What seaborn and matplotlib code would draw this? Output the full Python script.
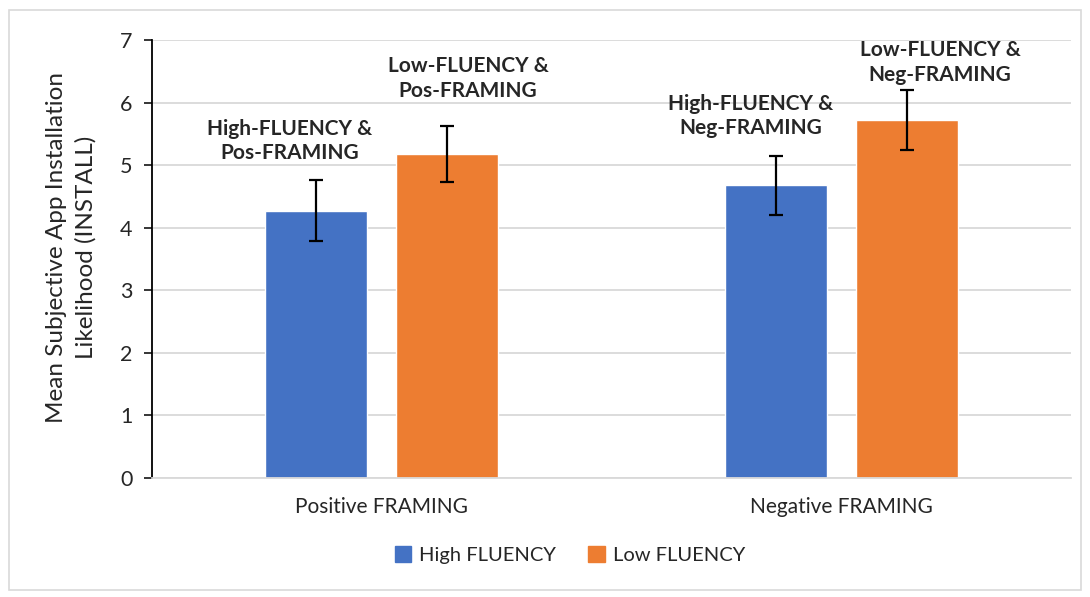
import pandas as pd
import numpy as np
import seaborn as sns
import matplotlib.pyplot as plt
from matplotlib.patches import Rectangle, Patch

framing = ["Positive FRAMING", "Positive FRAMING", "Negative FRAMING", "Negative FRAMING"]
fluency = ["High FLUENCY", "Low FLUENCY", "High FLUENCY", "Low FLUENCY"]
means = [4.27, 5.18, 4.68, 5.72]
errs = [0.49, 0.45, 0.47, 0.48]
bar_labels = ["High-FLUENCY &\nPos-FRAMING", "Low-FLUENCY &\nPos-FRAMING",
              "High-FLUENCY &\nNeg-FRAMING", "Low-FLUENCY &\nNeg-FRAMING"]

df = pd.DataFrame({"framing": framing, "fluency": fluency, "mean": means,
                   "err": errs, "label": bar_labels})
colors = {"High FLUENCY": "#4472C4", "Low FLUENCY": "#ED7D31"}

sns.set_style("white")
plt.rcParams['font.family'] = ['Lato', 'DejaVu Sans']

fig = plt.figure(figsize=(10.9, 5.97), dpi=100)
ax = fig.add_axes([0.1394, 0.1993, 0.8432, 0.7337])

sns.barplot(data=df, x="framing", y="mean", hue="fluency", palette=colors,
            width=0.571, gap=0.221, saturation=1, errorbar=None, ax=ax,
            legend=False)

# error bars + labels, matched to bars by position
bars = [p for p in ax.patches if p.get_height() > 0]
bars = sorted(bars, key=lambda p: p.get_x())
x_shift = [-19, 15, -18, 24]
y_shift = [12, 18, 12.5, 4]
for p, m, e, lab, dx, dy in zip(bars, means, errs, bar_labels, x_shift, y_shift):
    cx = p.get_x() + p.get_width() / 2
    ax.errorbar(cx, m, yerr=e, fmt="none", ecolor="black", elinewidth=1.6,
                capsize=5, capthick=1.6)
    ax.annotate(lab, (cx, m + e), xytext=(dx, dy), textcoords="offset points",
                ha="center", va="bottom", fontsize=15, fontweight="bold",
                linespacing=1.3)

ax.set_ylim(0, 7)
ax.set_xlim(-0.5, 1.5)
ax.set_yticks(range(0, 8))
ax.yaxis.grid(True, color="#D9D9D9", linewidth=1.3)
ax.set_axisbelow(True)
for s in ["top", "right"]:
    ax.spines[s].set_visible(False)
ax.spines["left"].set_color("black")
ax.spines["left"].set_linewidth(1.3)
ax.spines["bottom"].set_color("#D9D9D9")
ax.spines["bottom"].set_linewidth(1.3)
ax.tick_params(axis="y", which="major", left=True, length=6, width=1.3,
               labelsize=15.5, pad=8)
ax.tick_params(axis="x", bottom=False, labelsize=15, pad=10)
ax.set_xlabel("")
ax.set_ylabel("Mean Subjective App Installation\nLikelihood (INSTALL)",
              fontsize=17.5, linespacing=1.5)
ax.yaxis.set_label_coords(-0.06, 0.527)

handles = [Patch(color=colors[k]) for k in colors]
fig.legend(handles, list(colors), loc="center", bbox_to_anchor=(0.523, 0.07),
           ncol=2, frameon=False, fontsize=14.5, handlelength=0.8,
           handleheight=0.8, columnspacing=1.6, handletextpad=0.4)

fig.patches.append(Rectangle((0.008, 0.012), 0.984, 0.972,
                             transform=fig.transFigure, fill=False,
                             edgecolor="#D9D9D9", linewidth=1.2))

fig.savefig("out.png", dpi=100)
